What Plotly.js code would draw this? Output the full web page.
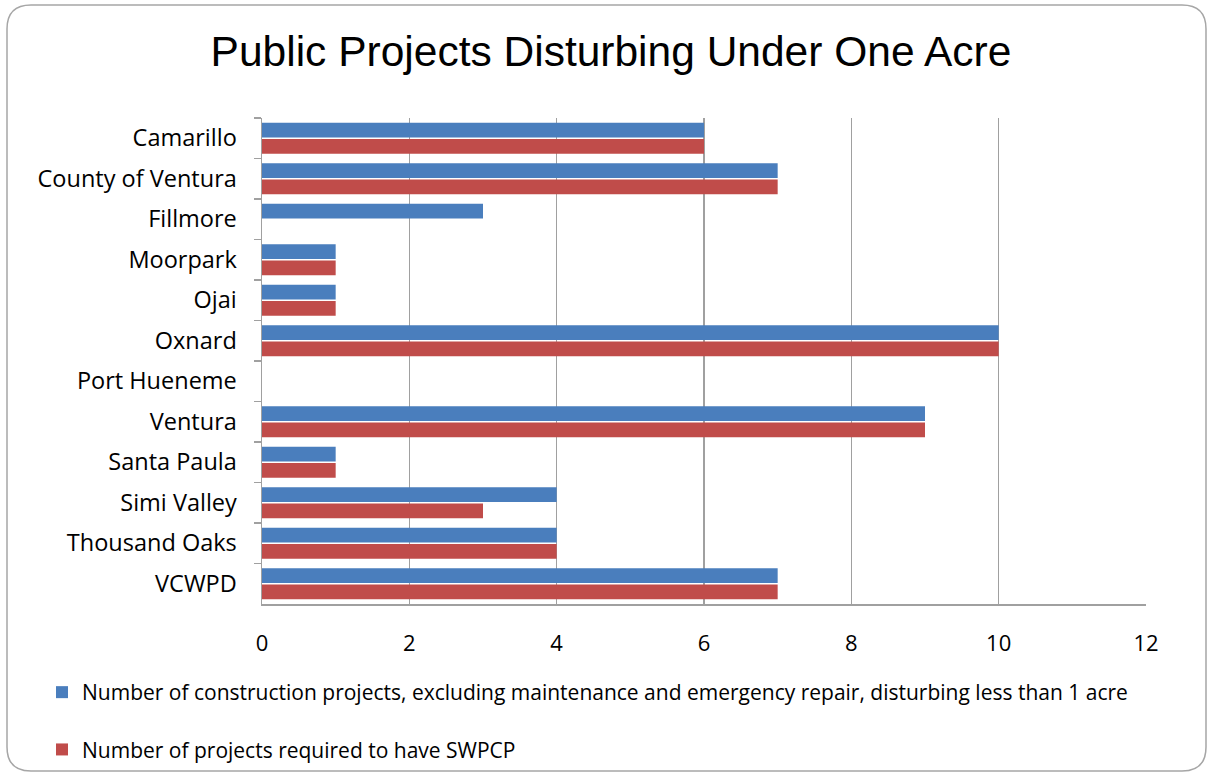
<!DOCTYPE html>
<html>
<head>
<meta charset="utf-8">
<script src="https://cdn.plot.ly/plotly-3.0.1.min.js"></script>
<style>
html,body{margin:0;padding:0;background:#fff;}
#chart{width:1207px;height:774px;}
</style>
</head>
<body>
<div id="chart"></div>
<script>
const categories = ["Camarillo","County of Ventura","Fillmore","Moorpark","Ojai","Oxnard","Port Hueneme","Ventura","Santa Paula","Simi Valley","Thousand Oaks","VCWPD"];
const constructionProjects = [6,7,3,1,1,10,0,9,1,4,4,7];
const swpcpProjects = [6,7,0,1,1,10,0,9,1,3,4,7];
const seriesNames = ["Number of construction projects, excluding maintenance and emergency repair, disturbing less than 1 acre","Number of projects required to have SWPCP"];
const xTicks = [0,2,4,6,8,10,12];

const W = 1207, H = 774;
const M = {l:262, r:61, t:118, b:170, autoexpand:false};
const PW = W - M.l - M.r, PH = H - M.t - M.b;
function px(x){ return ((x - M.l)/PW).toFixed(5); }
function py(y){ return ((H - M.b - y)/PH).toFixed(5); }
// rounded frame (pixel geometry converted to paper coords)
const fl=7, ft=5, fr=1206, fb=771, rad=24;
const framePath = "M"+px(fl+rad)+","+py(ft)+" L"+px(fr-rad)+","+py(ft)+
  " Q"+px(fr)+","+py(ft)+" "+px(fr)+","+py(ft+rad)+
  " L"+px(fr)+","+py(fb-rad)+" Q"+px(fr)+","+py(fb)+" "+px(fr-rad)+","+py(fb)+
  " L"+px(fl+rad)+","+py(fb)+" Q"+px(fl)+","+py(fb)+" "+px(fl)+","+py(fb-rad)+
  " L"+px(fl)+","+py(ft+rad)+" Q"+px(fl)+","+py(ft)+" "+px(fl+rad)+","+py(ft)+" Z";

const textFont = "'Open Sans', Lato, sans-serif";

const data = [
  {type:"bar", orientation:"h", y:categories, x:constructionProjects, name:seriesNames[0],
   legendgroup:"a", marker:{color:"#4a7ebd", line:{width:0}}, hoverinfo:"x+y"},
  {type:"bar", orientation:"h", y:categories, x:swpcpProjects, name:seriesNames[1],
   legendgroup:"b", marker:{color:"#c04c4a", line:{width:0}}, hoverinfo:"x+y"}
];

const layout = {
  width:W, height:H,
  margin:M,
  paper_bgcolor:"#fff", plot_bgcolor:"#fff",
  barmode:"group", bargap:0.2, bargroupgap:0.1,
  title:{text:"Public Projects Disturbing Under One Acre", font:{family:"'Liberation Sans', Arial, sans-serif", size:42.5, color:"#000"},
         xref:"container", x:611/W, xanchor:"center", yref:"container", y:1-51/H, yanchor:"middle"},
  xaxis:{range:[0,12], tickvals:xTicks, showgrid:true, gridcolor:"#a0a0a0", gridwidth:1.5,
         showline:true, linecolor:"#a0a0a0", linewidth:1.5, zeroline:false, ticks:"",
         tickfont:{family:textFont, size:22, color:"#000"}, ticklabelstandoff:19, fixedrange:true, automargin:false},
  yaxis:{type:"category", autorange:"reversed", showline:true, linecolor:"#a0a0a0", linewidth:1.5,
         ticks:"outside", tickson:"boundaries", ticklen:7, tickcolor:"#a0a0a0", tickwidth:1.5,
         showgrid:false, tickfont:{family:textFont, size:23.5, color:"#000"}, ticklabelstandoff:19, fixedrange:true, automargin:false},
  showlegend:true,
  legend:{xref:"container", yref:"container", x:42/W, y:1-672/H, xanchor:"left", yanchor:"top",
          orientation:"v", traceorder:"grouped", tracegroupgap:27,
          font:{family:textFont, size:21, color:"#000"}, bgcolor:"rgba(0,0,0,0)", itemclick:false},
  shapes:[{type:"path", xref:"paper", yref:"paper", path:framePath, line:{color:"#a6a6a6", width:1.5}, fillcolor:"rgba(0,0,0,0)", layer:"below"}]
};

Plotly.newPlot("chart", data, layout, {displayModeBar:false, staticPlot:true});
</script>
</body>
</html>
